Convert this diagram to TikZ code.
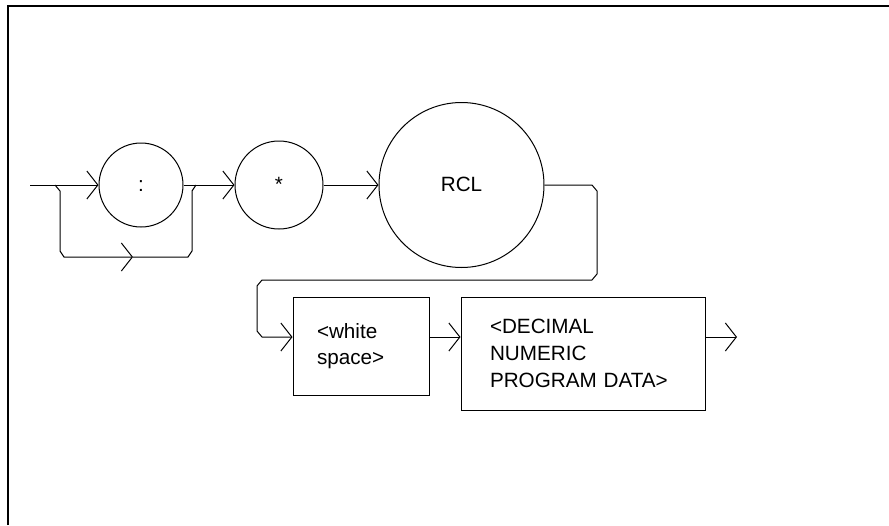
\documentclass[tikz,border=0pt]{standalone}
\usepackage{fontspec}
\setmainfont{Liberation Sans}
\usetikzlibrary{arrows.meta}
\tikzset{
  flow/.style={-{Straight Barb[length=8.25pt,width=21pt]}},
  circ/.style={draw,circle,inner sep=0pt,text height=1em,text depth=0pt},
  box/.style={draw,rectangle,align=left,inner ysep=0pt},
}
\begin{document}
\begin{tikzpicture}[x=0.75pt,y=-0.75pt,line width=0.75pt,font=\fontsize{15.5}{20}\selectfont]
\useasboundingbox (0,0) rectangle (889,525);
\draw[line width=1.2pt] (8,525) -- (8,6) -- (889,6);

\node[circ,minimum size=63pt] (colon) at (141,185) {:};
\node[circ,minimum size=66pt] (star) at (279,185) {*};
\node[circ,minimum size=123.75pt] (rcl) at (461.5,185) {RCL};
\node[box,minimum width=102pt,minimum height=73.5pt,text width=66pt,inner xsep=18pt] (ws) at (361,346) {<white\\space>};
\node[box,minimum width=183pt,minimum height=84.75pt,text width=139.5pt,inner xsep=21.75pt] (dec) at (583,353.5) {<DECIMAL\\NUMERIC\\PROGRAM DATA>};

\coordinate (start) at (30,185);
\coordinate (split) at (55,185);
\coordinate (join) at (196,185);
\coordinate (loop) at (133,257);
\coordinate (exit) at (737,337);

\draw[flow] (start) -- (colon);
\draw[flow] (split) -- (60,191) -- (60,251) -- (64,257) -- (loop);
\draw (loop) -- (188,257) -- (192,251) -- (192,191) -- (join);
\draw[flow] (colon) -- (star);
\draw[flow] (star) -- (rcl);
\draw[flow] (rcl.east) -- (592,185) -- (597,191) -- (597,274) -- (592,280) -- (262,280)
  -- (257,286) -- (257,331) -- (262,337) -- (ws.west |- 0,337);
\draw[flow] (ws.east |- 0,337) -- (dec.west |- 0,337);
\draw[flow] (dec.east |- 0,337) -- (exit);
\end{tikzpicture}
\end{document}
